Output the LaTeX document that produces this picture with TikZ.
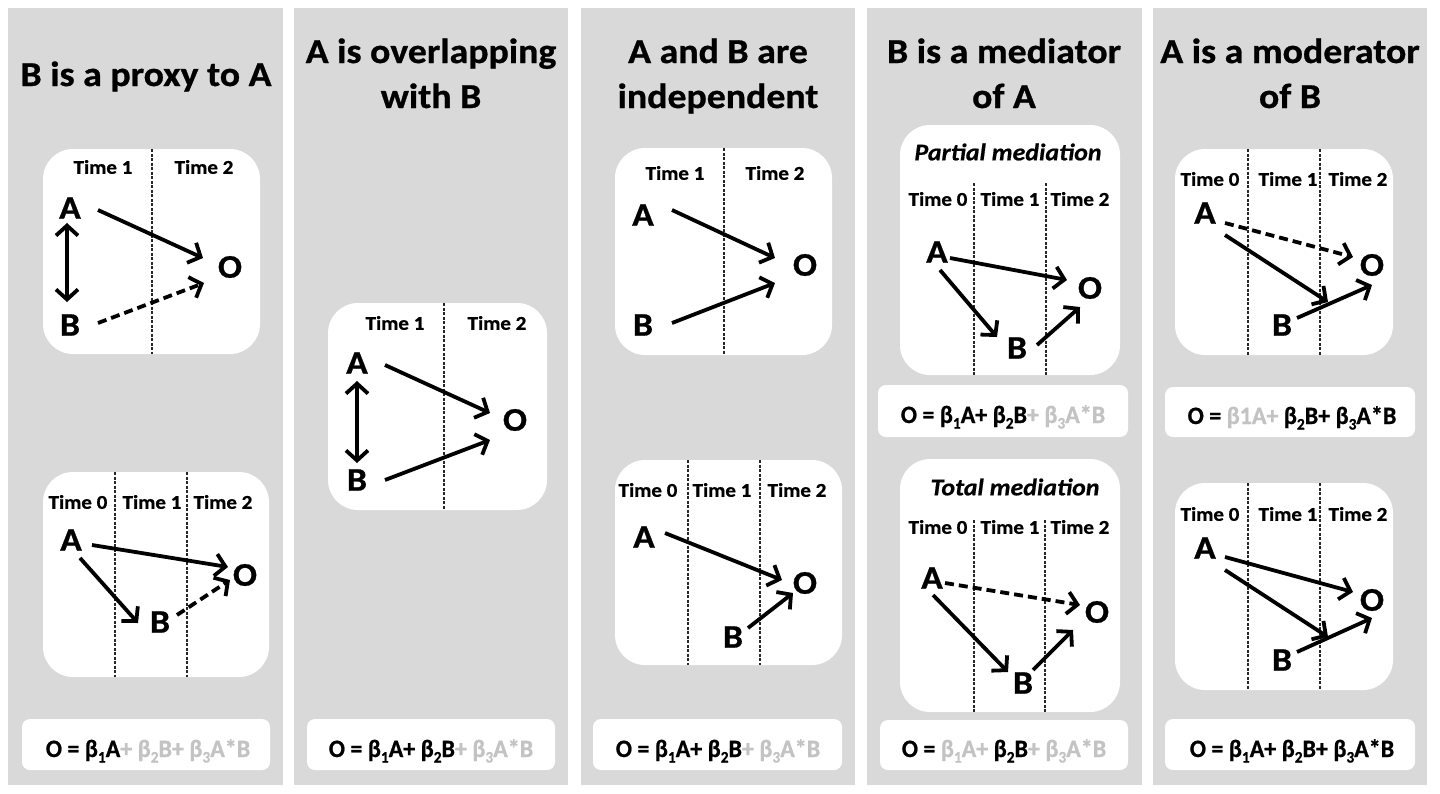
\documentclass[tikz,border=0pt]{standalone}
\usepackage{fontspec}
\setmainfont{Carlito}[FakeStretch=1.08, BoldFeatures={FakeBold=0.8}, BoldItalicFeatures={FakeBold=0.6}]
\newfontfamily\eqfont{Carlito}[FakeStretch=0.96, BoldFeatures={FakeBold=0.8}]
\usetikzlibrary{arrows.meta,calc}
\definecolor{panelgrey}{HTML}{D9D9D9}
\definecolor{eqgrey}{HTML}{C3C3C3}
\newcommand\lsub[1]{\raisebox{-0.22em}{\fontsize{16}{16}\selectfont #1}}
\newcommand\gr[1]{\textcolor{eqgrey}{#1}}
\begin{document}
\begin{tikzpicture}[x=1pt,y=-1pt,
 panel/.style={fill=panelgrey},
 wbox/.style={fill=white, rounded corners=30pt},
 eqbox/.style={fill=white, rounded corners=8pt},
 ttl/.style={font=\fontsize{35}{42}\selectfont\bfseries, anchor=base, inner sep=0pt},
 var/.style={font=\fontsize{33}{38}\selectfont\bfseries, inner sep=0pt},
 tlab/.style={font=\fontsize{19.5}{23}\selectfont\bfseries, inner sep=0pt},
 mlab/.style={font=\fontsize{24}{28}\selectfont\bfseries\itshape, inner sep=0pt},
 eqn/.style={font=\eqfont\fontsize{25}{30}\selectfont\bfseries, anchor=base, inner sep=0pt},
 divl/.style={line width=1.1pt, dash pattern=on 3pt off 1.5pt, black!85},
 arr/.style={line width=3.8pt, -{Straight Barb[length=10pt,width=22pt]}},
 darr/.style={arr, dash pattern=on 9pt off 5pt},
 barr/.style={line width=3.8pt, {Straight Barb[length=10pt,width=22pt]}-{Straight Barb[length=10pt,width=22pt]}},
]
\useasboundingbox (0,0) rectangle (1440,793);
\fill[white] (0,0) rectangle (1440,793);
% panels
\fill[panel] (8,8) rectangle (283,785);
\fill[panel] (294,8) rectangle (568,785);
\fill[panel] (581,8) rectangle (855,785);
\fill[panel] (867,8) rectangle (1142,785);
\fill[panel] (1153,8) rectangle (1427,785);
% titles
\node[ttl] (t1) at (146,86) {B is a proxy to A};
\node[ttl] (t2a) at (431,63) {A is overlapping};
\node[ttl] (t2b) at (431,108) {with B};
\node[ttl] (t3a) at (718,63) {A and B are};
\node[ttl] (t3b) at (718,108) {independent};
\node[ttl] (t4a) at (1004,63) {B is a mediator};
\node[ttl] (t4b) at (1004,108) {of A};
\node[ttl] (t5a) at (1290,63) {A is a moderator};
\node[ttl] (t5b) at (1290,108) {of B};

% ===== Panel 1 top
\fill[wbox] (43,149) rectangle (260,354);
\draw[divl] (152,149) -- (152,354);
\node[tlab] (p1aT1) at (103,167) {Time 1};
\node[tlab] (p1aT2) at (204,167) {Time 2};
\node[var] (p1aA) at (70,208) {A};
\node[var] (p1aB) at (70,325) {B};
\node[var] (p1aO) at (230,267) {O};
\draw[barr] ($(p1aA)+(-3,15)$) -- ($(p1aB)+(-3,-23)$);
\draw[arr] ($(p1aA)+(28,2)$) -- ($(p1aO)+(-27,-9)$);
\draw[darr] ($(p1aB)+(28,-2)$) -- ($(p1aO)+(-26,16)$);

% ===== Panel 1 bottom
\fill[wbox] (43,472) rectangle (269,677);
\draw[divl] (115,472) -- (115,677);
\draw[divl] (187,472) -- (187,677);
\node[tlab] (p1bT0) at (78,502) {Time 0};
\node[tlab] (p1bT1) at (152,502) {Time 1};
\node[tlab] (p1bT2) at (223,502) {Time 2};
\node[var] (p1bA) at (71,540) {A};
\node[var] (p1bO) at (245,575) {O};
\node[var] (p1bB) at (160,622) {B};
\draw[arr] ($(p1bA)+(21,5)$) -- ($(p1bO)+(-17,-8)$);
\draw[arr] ($(p1bA)+(9,18)$) -- ($(p1bB)+(-22,1)$);
\draw[darr] ($(p1bB)+(17,-7)$) -- ($(p1bO)+(-15,5)$);
\fill[eqbox] (22,719) rectangle (270,770);
\node[eqn] (eq1) at (148,757) {O = β\lsub{1}A\gr{+ β\lsub{2}B+ β\lsub{3}A*B}};

% ===== Panel 2
\fill[wbox] (328,303) rectangle (547,510);
\draw[divl] (444,303) -- (444,510);
\node[tlab] (p2T1) at (395,323) {Time 1};
\node[tlab] (p2T2) at (497,323) {Time 2};
\node[var] (p2A) at (357,363) {A};
\node[var] (p2B) at (357,480) {B};
\node[var] (p2O) at (515,420) {O};
\draw[barr] ($(p2A)+(0,18)$) -- ($(p2B)+(0,-17)$);
\draw[arr] ($(p2A)+(28,2)$) -- ($(p2O)+(-25,-7)$);
\draw[arr] ($(p2B)+(28,0)$) -- ($(p2O)+(-25,20)$);
\fill[eqbox] (307,719) rectangle (555,770);
\node[eqn] (eq2) at (431,757) {O = β\lsub{1}A+ β\lsub{2}B\gr{+ β\lsub{3}A*B}};

% ===== Panel 3 top
\fill[wbox] (615,148) rectangle (832,355);
\draw[divl] (724,148) -- (724,355);
\node[tlab] (p3aT1) at (675,173) {Time 1};
\node[tlab] (p3aT2) at (775,173) {Time 2};
\node[var] (p3aA) at (643,215) {A};
\node[var] (p3aB) at (643,325) {B};
\node[var] (p3aO) at (805,265) {O};
\draw[arr] ($(p3aA)+(29,-5)$) -- ($(p3aO)+(-30,-7)$);
\draw[arr] ($(p3aB)+(29,-2)$) -- ($(p3aO)+(-30,18)$);

% ===== Panel 3 bottom
\fill[wbox] (615,460) rectangle (842,665);
\draw[divl] (688,460) -- (688,665);
\draw[divl] (760,460) -- (760,665);
\node[tlab] (p3bT0) at (648,490) {Time 0};
\node[tlab] (p3bT1) at (722,490) {Time 1};
\node[tlab] (p3bT2) at (797,490) {Time 2};
\node[var] (p3bA) at (644,537) {A};
\node[var] (p3bO) at (805,583) {O};
\node[var] (p3bB) at (733,637) {B};
\draw[arr] ($(p3bA)+(21,-4)$) -- ($(p3bO)+(-23,-3)$);
\draw[arr] ($(p3bB)+(15,-9)$) -- ($(p3bO)+(-12,10)$);
\fill[eqbox] (593,719) rectangle (842,770);
\node[eqn] (eq3) at (718,757) {O = β\lsub{1}A+ β\lsub{2}B\gr{+ β\lsub{3}A*B}};

% ===== Panel 4 top
\fill[wbox] (900,125) rectangle (1120,375);
\node[mlab] (p4aM) at (1008,152) {Partial mediation};
\draw[divl] (974,183) -- (974,375);
\draw[divl] (1046,183) -- (1046,375);
\node[tlab] (p4aT0) at (938,199) {Time 0};
\node[tlab] (p4aT1) at (1010,199) {Time 1};
\node[tlab] (p4aT2) at (1080,199) {Time 2};
\node[var] (p4aA) at (937,252) {A};
\node[var] (p4aO) at (1090,288) {O};
\node[var] (p4aB) at (1017,348) {B};
\draw[arr] ($(p4aA)+(13,6)$) -- ($(p4aO)+(-23,-8)$);
\draw[arr] ($(p4aA)+(3,18)$) -- ($(p4aB)+(-20,-11)$);
\draw[arr] ($(p4aB)+(20,-3)$) -- ($(p4aO)+(-10,19)$);
\fill[eqbox] (878,385) rectangle (1128,437);
\node[eqn] (eq4a) at (1003,423) {O = β\lsub{1}A+ β\lsub{2}B\gr{+ β\lsub{3}A*B}};

% ===== Panel 4 bottom
\fill[wbox] (900,459) rectangle (1120,712);
\node[mlab] (p4bM) at (1015,487) {Total mediation};
\draw[divl] (974,520) -- (974,712);
\draw[divl] (1045,520) -- (1045,712);
\node[tlab] (p4bT0) at (938,527) {Time 0};
\node[tlab] (p4bT1) at (1010,527) {Time 1};
\node[tlab] (p4bT2) at (1080,527) {Time 2};
\node[var] (p4bA) at (932,578) {A};
\node[var] (p4bO) at (1097,612) {O};
\node[var] (p4bB) at (1023,683) {B};
\draw[darr] ($(p4bA)+(13,5)$) -- ($(p4bO)+(-17,-7)$);
\draw[arr] ($(p4bA)+(1,17)$) -- ($(p4bB)+(-15,-11)$);
\draw[arr] ($(p4bB)+(10,-13)$) -- ($(p4bO)+(-24,18)$);
\fill[eqbox] (880,720) rectangle (1128,770);
\node[eqn] (eq4b) at (1004,757) {O = \gr{β\lsub{1}A+} β\lsub{2}B\gr{+ β\lsub{3}A*B}};

% ===== Panel 5 top
\fill[wbox] (1175,149) rectangle (1393,355);
\draw[divl] (1248,149) -- (1248,355);
\draw[divl] (1320,149) -- (1320,355);
\node[tlab] (p5aT0) at (1210,179) {Time 0};
\node[tlab] (p5aT1) at (1288,179) {Time 1};
\node[tlab] (p5aT2) at (1358,179) {Time 2};
\node[var] (p5aA) at (1205,213) {A};
\node[var] (p5aO) at (1372,265) {O};
\node[var] (p5aB) at (1282,325) {B};
\draw[darr] ($(p5aA)+(20,10)$) -- ($(p5aO)+(-19,-8)$);
\draw[arr] ($(p5aA)+(20,22)$) -- ($(p5aB)+(46,-23)$);
\draw[arr] ($(p5aB)+(15,-7)$) -- ($(p5aO)+(0,20)$);
\fill[eqbox] (1165,387) rectangle (1415,437);
\node[eqn] (eq5a) at (1292,424) {O = \gr{β1A+} β\lsub{2}B+ β\lsub{3}A*B};

% ===== Panel 5 bottom
\fill[wbox] (1175,483) rectangle (1393,690);
\draw[divl] (1248,483) -- (1248,690);
\draw[divl] (1320,483) -- (1320,690);
\node[tlab] (p5bT0) at (1210,514) {Time 0};
\node[tlab] (p5bT1) at (1288,514) {Time 1};
\node[tlab] (p5bT2) at (1358,514) {Time 2};
\node[var] (p5bA) at (1205,548) {A};
\node[var] (p5bO) at (1372,600) {O};
\node[var] (p5bB) at (1282,660) {B};
\draw[arr] ($(p5bA)+(20,9)$) -- ($(p5bO)+(-19,-8)$);
\draw[arr] ($(p5bA)+(20,22)$) -- ($(p5bB)+(46,-23)$);
\draw[arr] ($(p5bB)+(15,-8)$) -- ($(p5bO)+(0,18)$);
\fill[eqbox] (1165,719) rectangle (1415,770);
\node[eqn] (eq5b) at (1292,757) {O = β\lsub{1}A+ β\lsub{2}B+ β\lsub{3}A*B};
\end{tikzpicture}
\end{document}
